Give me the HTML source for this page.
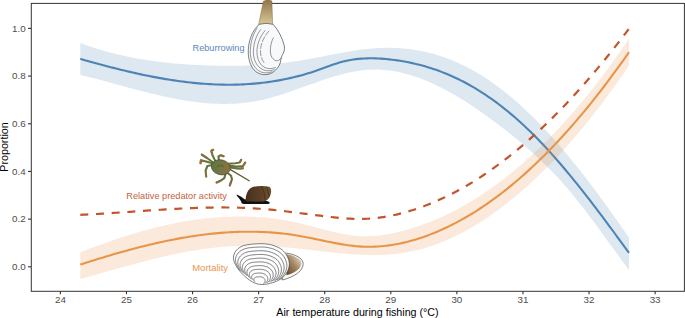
<!DOCTYPE html>
<html><head><meta charset="utf-8"><style>
html,body{margin:0;padding:0;background:#fff;width:685px;height:318px;overflow:hidden}
svg{display:block;font-family:"Liberation Sans",sans-serif}
</style></head><body>
<svg width="685" height="318" viewBox="0 0 685 318">
<rect x="0" y="0" width="685" height="318" fill="#fff"/>
<path d="M80.30,43.03 L83.06,44.05 L85.81,45.03 L88.57,45.99 L91.33,46.92 L94.09,47.82 L96.84,48.69 L99.60,49.53 L102.36,50.34 L105.12,51.13 L107.87,51.89 L110.63,52.63 L113.39,53.34 L116.14,54.03 L118.90,54.69 L121.66,55.32 L124.42,55.94 L127.17,56.52 L129.93,57.09 L132.69,57.63 L135.45,58.16 L138.20,58.66 L140.96,59.13 L143.72,59.59 L146.47,60.03 L149.23,60.45 L151.99,60.85 L154.75,61.23 L157.50,61.59 L160.26,61.93 L163.02,62.26 L165.78,62.56 L168.53,62.85 L171.29,63.13 L174.05,63.39 L176.81,63.63 L179.56,63.86 L182.32,64.07 L185.08,64.27 L187.83,64.46 L190.59,64.63 L193.35,64.79 L196.11,64.94 L198.86,65.07 L201.62,65.20 L204.38,65.31 L207.14,65.41 L209.89,65.50 L212.65,65.58 L215.41,65.65 L218.16,65.71 L220.92,65.75 L223.68,65.78 L226.44,65.80 L229.19,65.81 L231.95,65.80 L234.71,65.78 L237.47,65.75 L240.22,65.70 L242.98,65.64 L245.74,65.56 L248.49,65.47 L251.25,65.36 L254.01,65.24 L256.77,65.10 L259.52,64.94 L262.28,64.77 L265.04,64.58 L267.80,64.38 L270.55,64.16 L273.31,63.92 L276.07,63.66 L278.82,63.38 L281.58,63.08 L284.34,62.77 L287.10,62.44 L289.85,62.08 L292.61,61.71 L295.37,61.32 L298.13,60.91 L300.88,60.47 L303.64,60.02 L306.40,59.54 L309.15,59.05 L311.91,58.54 L314.67,58.02 L317.43,57.49 L320.18,56.95 L322.94,56.40 L325.70,55.85 L328.46,55.30 L331.21,54.76 L333.97,54.21 L336.73,53.68 L339.48,53.15 L342.24,52.64 L345.00,52.14 L347.76,51.65 L350.51,51.19 L353.27,50.75 L356.03,50.33 L358.79,49.94 L361.54,49.58 L364.30,49.25 L367.06,48.95 L369.82,48.68 L372.57,48.45 L375.33,48.25 L378.09,48.09 L380.84,47.97 L383.60,47.88 L386.36,47.83 L389.12,47.83 L391.87,47.86 L394.63,47.93 L397.39,48.05 L400.15,48.21 L402.90,48.42 L405.66,48.67 L408.42,48.97 L411.17,49.31 L413.93,49.71 L416.69,50.15 L419.45,50.64 L422.20,51.18 L424.96,51.77 L427.72,52.41 L430.48,53.11 L433.23,53.85 L435.99,54.64 L438.75,55.48 L441.50,56.38 L444.26,57.33 L447.02,58.33 L449.78,59.38 L452.53,60.49 L455.29,61.65 L458.05,62.87 L460.81,64.13 L463.56,65.46 L466.32,66.84 L469.08,68.27 L471.83,69.76 L474.59,71.31 L477.35,72.91 L480.11,74.57 L482.86,76.28 L485.62,78.05 L488.38,79.87 L491.14,81.75 L493.89,83.69 L496.65,85.68 L499.41,87.73 L502.16,89.83 L504.92,91.99 L507.68,94.20 L510.44,96.47 L513.19,98.79 L515.95,101.17 L518.71,103.61 L521.47,106.10 L524.22,108.64 L526.98,111.24 L529.74,113.89 L532.49,116.59 L535.25,119.34 L538.01,122.14 L540.77,124.99 L543.52,127.90 L546.28,130.85 L549.04,133.84 L551.80,136.89 L554.55,139.98 L557.31,143.11 L560.07,146.30 L562.83,149.52 L565.58,152.78 L568.34,156.09 L571.10,159.44 L573.85,162.83 L576.61,166.26 L579.37,169.73 L582.13,173.23 L584.88,176.77 L587.64,180.35 L590.40,183.97 L593.16,187.61 L595.91,191.29 L598.67,195.01 L601.43,198.76 L604.18,202.53 L606.94,206.34 L609.70,210.18 L612.46,214.04 L615.21,217.94 L617.97,221.86 L620.73,225.81 L623.49,229.78 L626.24,233.78 L629.00,237.80 L629.00,270.18 L626.24,266.46 L623.49,262.71 L620.73,258.94 L617.97,255.15 L615.21,251.35 L612.46,247.55 L609.70,243.74 L606.94,239.93 L604.18,236.12 L601.43,232.33 L598.67,228.56 L595.91,224.81 L593.16,221.08 L590.40,217.39 L587.64,213.73 L584.88,210.11 L582.13,206.53 L579.37,203.01 L576.61,199.54 L573.85,196.14 L571.10,192.79 L568.34,189.52 L565.58,186.32 L562.83,183.18 L560.07,180.11 L557.31,177.11 L554.55,174.17 L551.80,171.29 L549.04,168.47 L546.28,165.70 L543.52,162.99 L540.77,160.33 L538.01,157.73 L535.25,155.17 L532.49,152.65 L529.74,150.19 L526.98,147.76 L524.22,145.38 L521.47,143.03 L518.71,140.72 L515.95,138.45 L513.19,136.20 L510.44,133.99 L507.68,131.81 L504.92,129.65 L502.16,127.52 L499.41,125.41 L496.65,123.32 L493.89,121.26 L491.14,119.22 L488.38,117.20 L485.62,115.21 L482.86,113.25 L480.11,111.31 L477.35,109.40 L474.59,107.53 L471.83,105.68 L469.08,103.87 L466.32,102.09 L463.56,100.35 L460.81,98.64 L458.05,96.97 L455.29,95.33 L452.53,93.74 L449.78,92.18 L447.02,90.67 L444.26,89.20 L441.50,87.78 L438.75,86.39 L435.99,85.06 L433.23,83.77 L430.48,82.53 L427.72,81.34 L424.96,80.20 L422.20,79.11 L419.45,78.07 L416.69,77.09 L413.93,76.16 L411.17,75.28 L408.42,74.47 L405.66,73.71 L402.90,73.01 L400.15,72.37 L397.39,71.80 L394.63,71.28 L391.87,70.83 L389.12,70.45 L386.36,70.13 L383.60,69.88 L380.84,69.69 L378.09,69.58 L375.33,69.53 L372.57,69.56 L369.82,69.66 L367.06,69.83 L364.30,70.07 L361.54,70.38 L358.79,70.76 L356.03,71.19 L353.27,71.68 L350.51,72.23 L347.76,72.83 L345.00,73.48 L342.24,74.17 L339.48,74.90 L336.73,75.68 L333.97,76.49 L331.21,77.33 L328.46,78.20 L325.70,79.10 L322.94,80.02 L320.18,80.96 L317.43,81.92 L314.67,82.90 L311.91,83.88 L309.15,84.87 L306.40,85.87 L303.64,86.86 L300.88,87.86 L298.13,88.85 L295.37,89.83 L292.61,90.81 L289.85,91.76 L287.10,92.71 L284.34,93.63 L281.58,94.52 L278.82,95.39 L276.07,96.23 L273.31,97.04 L270.55,97.81 L267.80,98.54 L265.04,99.23 L262.28,99.88 L259.52,100.47 L256.77,101.02 L254.01,101.51 L251.25,101.96 L248.49,102.35 L245.74,102.70 L242.98,103.01 L240.22,103.27 L237.47,103.48 L234.71,103.65 L231.95,103.78 L229.19,103.87 L226.44,103.92 L223.68,103.93 L220.92,103.90 L218.16,103.84 L215.41,103.73 L212.65,103.60 L209.89,103.42 L207.14,103.22 L204.38,102.98 L201.62,102.71 L198.86,102.41 L196.11,102.09 L193.35,101.73 L190.59,101.35 L187.83,100.94 L185.08,100.50 L182.32,100.04 L179.56,99.56 L176.81,99.05 L174.05,98.52 L171.29,97.98 L168.53,97.41 L165.78,96.83 L163.02,96.22 L160.26,95.60 L157.50,94.97 L154.75,94.32 L151.99,93.66 L149.23,92.98 L146.47,92.29 L143.72,91.60 L140.96,90.89 L138.20,90.18 L135.45,89.45 L132.69,88.72 L129.93,87.99 L127.17,87.25 L124.42,86.50 L121.66,85.76 L118.90,85.01 L116.14,84.26 L113.39,83.51 L110.63,82.77 L107.87,82.02 L105.12,81.28 L102.36,80.55 L99.60,79.81 L96.84,79.09 L94.09,78.37 L91.33,77.66 L88.57,76.96 L85.81,76.27 L83.06,75.59 L80.30,74.92 Z" fill="#4682b4" fill-opacity="0.18"/>
<path d="M80.30,58.86 L83.06,59.65 L85.81,60.43 L88.57,61.21 L91.33,61.97 L94.09,62.74 L96.84,63.49 L99.60,64.24 L102.36,64.98 L105.12,65.71 L107.87,66.44 L110.63,67.15 L113.39,67.86 L116.14,68.56 L118.90,69.24 L121.66,69.92 L124.42,70.59 L127.17,71.24 L129.93,71.89 L132.69,72.52 L135.45,73.14 L138.20,73.75 L140.96,74.35 L143.72,74.93 L146.47,75.50 L149.23,76.06 L151.99,76.60 L154.75,77.13 L157.50,77.65 L160.26,78.15 L163.02,78.63 L165.78,79.10 L168.53,79.55 L171.29,79.99 L174.05,80.40 L176.81,80.81 L179.56,81.19 L182.32,81.56 L185.08,81.90 L187.83,82.23 L190.59,82.54 L193.35,82.84 L196.11,83.11 L198.86,83.36 L201.62,83.59 L204.38,83.80 L207.14,83.99 L209.89,84.16 L212.65,84.31 L215.41,84.43 L218.16,84.53 L220.92,84.61 L223.68,84.67 L226.44,84.70 L229.19,84.71 L231.95,84.69 L234.71,84.65 L237.47,84.59 L240.22,84.50 L242.98,84.38 L245.74,84.24 L248.49,84.07 L251.25,83.88 L254.01,83.66 L256.77,83.41 L259.52,83.13 L262.28,82.82 L265.04,82.49 L267.80,82.13 L270.55,81.74 L273.31,81.32 L276.07,80.86 L278.82,80.38 L281.58,79.87 L284.34,79.33 L287.10,78.75 L289.85,78.15 L292.61,77.51 L295.37,76.84 L298.13,76.14 L300.88,75.41 L303.64,74.64 L306.40,73.84 L309.15,73.00 L311.91,72.14 L314.67,71.23 L317.43,70.30 L320.18,69.33 L322.94,68.33 L325.70,67.31 L328.46,66.29 L331.21,65.29 L333.97,64.32 L336.73,63.40 L339.48,62.55 L342.24,61.79 L345.00,61.10 L347.76,60.50 L350.51,59.98 L353.27,59.54 L356.03,59.16 L358.79,58.86 L361.54,58.63 L364.30,58.46 L367.06,58.35 L369.82,58.30 L372.57,58.31 L375.33,58.37 L378.09,58.48 L380.84,58.63 L383.60,58.83 L386.36,59.07 L389.12,59.35 L391.87,59.67 L394.63,60.02 L397.39,60.40 L400.15,60.83 L402.90,61.28 L405.66,61.78 L408.42,62.31 L411.17,62.89 L413.93,63.50 L416.69,64.15 L419.45,64.84 L422.20,65.57 L424.96,66.34 L427.72,67.15 L430.48,68.01 L433.23,68.91 L435.99,69.85 L438.75,70.84 L441.50,71.87 L444.26,72.95 L447.02,74.07 L449.78,75.24 L452.53,76.45 L455.29,77.72 L458.05,79.03 L460.81,80.39 L463.56,81.80 L466.32,83.26 L469.08,84.77 L471.83,86.33 L474.59,87.94 L477.35,89.60 L480.11,91.31 L482.86,93.08 L485.62,94.90 L488.38,96.76 L491.14,98.68 L493.89,100.66 L496.65,102.68 L499.41,104.76 L502.16,106.88 L504.92,109.06 L507.68,111.30 L510.44,113.58 L513.19,115.92 L515.95,118.31 L518.71,120.75 L521.47,123.24 L524.22,125.79 L526.98,128.39 L529.74,131.04 L532.49,133.75 L535.25,136.51 L538.01,139.32 L540.77,142.18 L543.52,145.09 L546.28,148.05 L549.04,151.06 L551.80,154.11 L554.55,157.21 L557.31,160.36 L560.07,163.54 L562.83,166.76 L565.58,170.03 L568.34,173.33 L571.10,176.67 L573.85,180.04 L576.61,183.45 L579.37,186.89 L582.13,190.36 L584.88,193.86 L587.64,197.39 L590.40,200.95 L593.16,204.54 L595.91,208.15 L598.67,211.78 L601.43,215.44 L604.18,219.11 L606.94,222.81 L609.70,226.52 L612.46,230.25 L615.21,234.00 L617.97,237.76 L620.73,241.54 L623.49,245.32 L626.24,249.12 L629.00,252.92" fill="none" stroke="#4d84b3" stroke-width="2.1"/>
<path d="M80.30,252.29 L83.06,251.20 L85.81,250.13 L88.57,249.07 L91.33,248.03 L94.09,246.99 L96.84,245.97 L99.60,244.96 L102.36,243.96 L105.12,242.97 L107.87,242.00 L110.63,241.05 L113.39,240.10 L116.14,239.17 L118.90,238.26 L121.66,237.36 L124.42,236.47 L127.17,235.60 L129.93,234.75 L132.69,233.91 L135.45,233.08 L138.20,232.28 L140.96,231.49 L143.72,230.72 L146.47,229.96 L149.23,229.22 L151.99,228.50 L154.75,227.80 L157.50,227.11 L160.26,226.45 L163.02,225.80 L165.78,225.17 L168.53,224.57 L171.29,223.98 L174.05,223.41 L176.81,222.86 L179.56,222.33 L182.32,221.82 L185.08,221.34 L187.83,220.87 L190.59,220.43 L193.35,220.01 L196.11,219.61 L198.86,219.23 L201.62,218.88 L204.38,218.54 L207.14,218.24 L209.89,217.95 L212.65,217.69 L215.41,217.45 L218.16,217.24 L220.92,217.05 L223.68,216.89 L226.44,216.75 L229.19,216.64 L231.95,216.55 L234.71,216.49 L237.47,216.45 L240.22,216.44 L242.98,216.46 L245.74,216.51 L248.49,216.58 L251.25,216.68 L254.01,216.81 L256.77,216.96 L259.52,217.15 L262.28,217.36 L265.04,217.60 L267.80,217.87 L270.55,218.17 L273.31,218.50 L276.07,218.86 L278.82,219.25 L281.58,219.67 L284.34,220.12 L287.10,220.61 L289.85,221.12 L292.61,221.67 L295.37,222.25 L298.13,222.86 L300.88,223.50 L303.64,224.17 L306.40,224.86 L309.15,225.58 L311.91,226.31 L314.67,227.04 L317.43,227.79 L320.18,228.53 L322.94,229.27 L325.70,229.99 L328.46,230.70 L331.21,231.39 L333.97,232.06 L336.73,232.70 L339.48,233.30 L342.24,233.86 L345.00,234.37 L347.76,234.84 L350.51,235.25 L353.27,235.61 L356.03,235.89 L358.79,236.11 L361.54,236.26 L364.30,236.33 L367.06,236.33 L369.82,236.25 L372.57,236.11 L375.33,235.91 L378.09,235.64 L380.84,235.31 L383.60,234.93 L386.36,234.49 L389.12,233.99 L391.87,233.45 L394.63,232.86 L397.39,232.22 L400.15,231.54 L402.90,230.82 L405.66,230.07 L408.42,229.27 L411.17,228.45 L413.93,227.58 L416.69,226.68 L419.45,225.74 L422.20,224.77 L424.96,223.76 L427.72,222.72 L430.48,221.63 L433.23,220.51 L435.99,219.36 L438.75,218.16 L441.50,216.93 L444.26,215.66 L447.02,214.36 L449.78,213.01 L452.53,211.63 L455.29,210.21 L458.05,208.75 L460.81,207.26 L463.56,205.72 L466.32,204.15 L469.08,202.54 L471.83,200.89 L474.59,199.20 L477.35,197.47 L480.11,195.71 L482.86,193.90 L485.62,192.06 L488.38,190.17 L491.14,188.25 L493.89,186.28 L496.65,184.28 L499.41,182.24 L502.16,180.15 L504.92,178.03 L507.68,175.86 L510.44,173.66 L513.19,171.41 L515.95,169.12 L518.71,166.80 L521.47,164.43 L524.22,162.02 L526.98,159.56 L529.74,157.07 L532.49,154.54 L535.25,151.96 L538.01,149.34 L540.77,146.68 L543.52,143.98 L546.28,141.24 L549.04,138.45 L551.80,135.62 L554.55,132.75 L557.31,129.83 L560.07,126.87 L562.83,123.87 L565.58,120.83 L568.34,117.74 L571.10,114.61 L573.85,111.44 L576.61,108.22 L579.37,104.96 L582.13,101.65 L584.88,98.30 L587.64,94.91 L590.40,91.47 L593.16,87.98 L595.91,84.46 L598.67,80.88 L601.43,77.27 L604.18,73.60 L606.94,69.90 L609.70,66.14 L612.46,62.34 L615.21,58.50 L617.97,54.61 L620.73,50.68 L623.49,46.69 L626.24,42.67 L629.00,38.59 L629.00,65.63 L626.24,69.69 L623.49,73.70 L620.73,77.66 L617.97,81.58 L615.21,85.46 L612.46,89.29 L609.70,93.08 L606.94,96.82 L604.18,100.52 L601.43,104.17 L598.67,107.78 L595.91,111.35 L593.16,114.87 L590.40,118.35 L587.64,121.78 L584.88,125.17 L582.13,128.52 L579.37,131.82 L576.61,135.08 L573.85,138.30 L571.10,141.47 L568.34,144.60 L565.58,147.69 L562.83,150.73 L560.07,153.73 L557.31,156.69 L554.55,159.60 L551.80,162.47 L549.04,165.30 L546.28,168.09 L543.52,170.84 L540.77,173.54 L538.01,176.20 L535.25,178.82 L532.49,181.39 L529.74,183.93 L526.98,186.42 L524.22,188.87 L521.47,191.28 L518.71,193.65 L515.95,195.97 L513.19,198.26 L510.44,200.50 L507.68,202.70 L504.92,204.85 L502.16,206.97 L499.41,209.04 L496.65,211.07 L493.89,213.05 L491.14,215.00 L488.38,216.90 L485.62,218.75 L482.86,220.56 L480.11,222.33 L477.35,224.05 L474.59,225.73 L471.83,227.36 L469.08,228.95 L466.32,230.49 L463.56,231.99 L460.81,233.44 L458.05,234.85 L455.29,236.21 L452.53,237.53 L449.78,238.79 L447.02,240.02 L444.26,241.19 L441.50,242.32 L438.75,243.40 L435.99,244.43 L433.23,245.42 L430.48,246.35 L427.72,247.24 L424.96,248.09 L422.20,248.88 L419.45,249.62 L416.69,250.32 L413.93,250.97 L411.17,251.56 L408.42,252.11 L405.66,252.61 L402.90,253.06 L400.15,253.46 L397.39,253.81 L394.63,254.12 L391.87,254.39 L389.12,254.61 L386.36,254.79 L383.60,254.93 L380.84,255.04 L378.09,255.11 L375.33,255.14 L372.57,255.15 L369.82,255.12 L367.06,255.06 L364.30,254.97 L361.54,254.86 L358.79,254.72 L356.03,254.56 L353.27,254.38 L350.51,254.18 L347.76,253.96 L345.00,253.72 L342.24,253.47 L339.48,253.20 L336.73,252.92 L333.97,252.63 L331.21,252.33 L328.46,252.03 L325.70,251.72 L322.94,251.40 L320.18,251.08 L317.43,250.76 L314.67,250.44 L311.91,250.13 L309.15,249.81 L306.40,249.51 L303.64,249.20 L300.88,248.91 L298.13,248.63 L295.37,248.36 L292.61,248.10 L289.85,247.85 L287.10,247.61 L284.34,247.39 L281.58,247.18 L278.82,246.99 L276.07,246.81 L273.31,246.65 L270.55,246.50 L267.80,246.37 L265.04,246.25 L262.28,246.15 L259.52,246.08 L256.77,246.01 L254.01,245.97 L251.25,245.95 L248.49,245.94 L245.74,245.96 L242.98,246.00 L240.22,246.06 L237.47,246.14 L234.71,246.24 L231.95,246.37 L229.19,246.51 L226.44,246.69 L223.68,246.88 L220.92,247.11 L218.16,247.35 L215.41,247.62 L212.65,247.92 L209.89,248.24 L207.14,248.59 L204.38,248.95 L201.62,249.34 L198.86,249.75 L196.11,250.18 L193.35,250.63 L190.59,251.10 L187.83,251.59 L185.08,252.10 L182.32,252.63 L179.56,253.17 L176.81,253.73 L174.05,254.30 L171.29,254.90 L168.53,255.50 L165.78,256.12 L163.02,256.75 L160.26,257.40 L157.50,258.06 L154.75,258.73 L151.99,259.41 L149.23,260.10 L146.47,260.80 L143.72,261.51 L140.96,262.23 L138.20,262.96 L135.45,263.69 L132.69,264.43 L129.93,265.18 L127.17,265.93 L124.42,266.69 L121.66,267.45 L118.90,268.22 L116.14,268.99 L113.39,269.76 L110.63,270.53 L107.87,271.31 L105.12,272.08 L102.36,272.86 L99.60,273.63 L96.84,274.41 L94.09,275.18 L91.33,275.95 L88.57,276.71 L85.81,277.48 L83.06,278.23 L80.30,278.99 Z" fill="#e88a3a" fill-opacity="0.18"/>
<path d="M80.30,264.53 L83.06,263.65 L85.81,262.77 L88.57,261.90 L91.33,261.03 L94.09,260.17 L96.84,259.32 L99.60,258.47 L102.36,257.63 L105.12,256.80 L107.87,255.98 L110.63,255.16 L113.39,254.36 L116.14,253.56 L118.90,252.77 L121.66,252.00 L124.42,251.23 L127.17,250.47 L129.93,249.72 L132.69,248.99 L135.45,248.26 L138.20,247.55 L140.96,246.84 L143.72,246.15 L146.47,245.47 L149.23,244.81 L151.99,244.15 L154.75,243.51 L157.50,242.89 L160.26,242.27 L163.02,241.67 L165.78,241.09 L168.53,240.52 L171.29,239.96 L174.05,239.42 L176.81,238.90 L179.56,238.39 L182.32,237.90 L185.08,237.42 L187.83,236.96 L190.59,236.52 L193.35,236.10 L196.11,235.69 L198.86,235.30 L201.62,234.93 L204.38,234.57 L207.14,234.24 L209.89,233.92 L212.65,233.63 L215.41,233.35 L218.16,233.10 L220.92,232.86 L223.68,232.64 L226.44,232.45 L229.19,232.28 L231.95,232.12 L234.71,231.99 L237.47,231.88 L240.22,231.80 L242.98,231.74 L245.74,231.69 L248.49,231.68 L251.25,231.68 L254.01,231.71 L256.77,231.77 L259.52,231.85 L262.28,231.95 L265.04,232.08 L267.80,232.23 L270.55,232.41 L273.31,232.62 L276.07,232.85 L278.82,233.11 L281.58,233.39 L284.34,233.70 L287.10,234.04 L289.85,234.41 L292.61,234.80 L295.37,235.23 L298.13,235.68 L300.88,236.16 L303.64,236.66 L306.40,237.19 L309.15,237.74 L311.91,238.30 L314.67,238.88 L317.43,239.46 L320.18,240.04 L322.94,240.62 L325.70,241.20 L328.46,241.77 L331.21,242.33 L333.97,242.87 L336.73,243.39 L339.48,243.89 L342.24,244.37 L345.00,244.81 L347.76,245.21 L350.51,245.58 L353.27,245.91 L356.03,246.18 L358.79,246.41 L361.54,246.59 L364.30,246.71 L367.06,246.77 L369.82,246.78 L372.57,246.74 L375.33,246.64 L378.09,246.49 L380.84,246.29 L383.60,246.04 L386.36,245.73 L389.12,245.38 L391.87,244.97 L394.63,244.52 L397.39,244.02 L400.15,243.47 L402.90,242.87 L405.66,242.22 L408.42,241.53 L411.17,240.79 L413.93,240.01 L416.69,239.18 L419.45,238.31 L422.20,237.39 L424.96,236.43 L427.72,235.43 L430.48,234.38 L433.23,233.30 L435.99,232.17 L438.75,231.00 L441.50,229.79 L444.26,228.54 L447.02,227.24 L449.78,225.91 L452.53,224.53 L455.29,223.11 L458.05,221.65 L460.81,220.15 L463.56,218.61 L466.32,217.03 L469.08,215.40 L471.83,213.74 L474.59,212.03 L477.35,210.29 L480.11,208.50 L482.86,206.67 L485.62,204.80 L488.38,202.89 L491.14,200.94 L493.89,198.94 L496.65,196.91 L499.41,194.84 L502.16,192.72 L504.92,190.57 L507.68,188.37 L510.44,186.13 L513.19,183.86 L515.95,181.54 L518.71,179.18 L521.47,176.78 L524.22,174.34 L526.98,171.87 L529.74,169.35 L532.49,166.79 L535.25,164.19 L538.01,161.55 L540.77,158.87 L543.52,156.15 L546.28,153.39 L549.04,150.59 L551.80,147.75 L554.55,144.87 L557.31,141.95 L560.07,138.99 L562.83,135.99 L565.58,132.95 L568.34,129.87 L571.10,126.75 L573.85,123.59 L576.61,120.40 L579.37,117.16 L582.13,113.88 L584.88,110.57 L587.64,107.21 L590.40,103.82 L593.16,100.38 L595.91,96.91 L598.67,93.39 L601.43,89.84 L604.18,86.25 L606.94,82.62 L609.70,78.95 L612.46,75.24 L615.21,71.49 L617.97,67.71 L620.73,63.88 L623.49,60.02 L626.24,56.11 L629.00,52.17" fill="none" stroke="#e8954a" stroke-width="2.1"/>
<path d="M80.30,214.84 L83.06,214.71 L85.81,214.58 L88.57,214.44 L91.33,214.29 L94.09,214.14 L96.84,213.98 L99.60,213.81 L102.36,213.65 L105.12,213.47 L107.87,213.30 L110.63,213.12 L113.39,212.94 L116.14,212.75 L118.90,212.57 L121.66,212.38 L124.42,212.19 L127.17,212.00 L129.93,211.81 L132.69,211.61 L135.45,211.42 L138.20,211.23 L140.96,211.04 L143.72,210.85 L146.47,210.66 L149.23,210.47 L151.99,210.29 L154.75,210.11 L157.50,209.93 L160.26,209.75 L163.02,209.58 L165.78,209.41 L168.53,209.25 L171.29,209.09 L174.05,208.93 L176.81,208.79 L179.56,208.64 L182.32,208.51 L185.08,208.38 L187.83,208.26 L190.59,208.14 L193.35,208.03 L196.11,207.93 L198.86,207.84 L201.62,207.76 L204.38,207.69 L207.14,207.62 L209.89,207.57 L212.65,207.53 L215.41,207.50 L218.16,207.48 L220.92,207.47 L223.68,207.47 L226.44,207.48 L229.19,207.51 L231.95,207.55 L234.71,207.60 L237.47,207.67 L240.22,207.75 L242.98,207.84 L245.74,207.95 L248.49,208.08 L251.25,208.22 L254.01,208.37 L256.77,208.55 L259.52,208.73 L262.28,208.94 L265.04,209.16 L267.80,209.40 L270.55,209.66 L273.31,209.93 L276.07,210.22 L278.82,210.52 L281.58,210.83 L284.34,211.15 L287.10,211.48 L289.85,211.82 L292.61,212.17 L295.37,212.52 L298.13,212.87 L300.88,213.23 L303.64,213.59 L306.40,213.95 L309.15,214.31 L311.91,214.66 L314.67,215.02 L317.43,215.37 L320.18,215.71 L322.94,216.05 L325.70,216.38 L328.46,216.70 L331.21,217.02 L333.97,217.31 L336.73,217.60 L339.48,217.87 L342.24,218.12 L345.00,218.35 L347.76,218.54 L350.51,218.71 L353.27,218.83 L356.03,218.92 L358.79,218.95 L361.54,218.94 L364.30,218.88 L367.06,218.76 L369.82,218.60 L372.57,218.38 L375.33,218.12 L378.09,217.81 L380.84,217.45 L383.60,217.04 L386.36,216.59 L389.12,216.09 L391.87,215.55 L394.63,214.96 L397.39,214.33 L400.15,213.66 L402.90,212.95 L405.66,212.19 L408.42,211.40 L411.17,210.56 L413.93,209.69 L416.69,208.78 L419.45,207.83 L422.20,206.84 L424.96,205.81 L427.72,204.74 L430.48,203.64 L433.23,202.50 L435.99,201.32 L438.75,200.10 L441.50,198.85 L444.26,197.56 L447.02,196.23 L449.78,194.86 L452.53,193.45 L455.29,192.01 L458.05,190.53 L460.81,189.01 L463.56,187.46 L466.32,185.86 L469.08,184.24 L471.83,182.57 L474.59,180.87 L477.35,179.13 L480.11,177.35 L482.86,175.54 L485.62,173.69 L488.38,171.80 L491.14,169.88 L493.89,167.92 L496.65,165.92 L499.41,163.89 L502.16,161.82 L504.92,159.71 L507.68,157.57 L510.44,155.40 L513.19,153.18 L515.95,150.93 L518.71,148.65 L521.47,146.33 L524.22,143.97 L526.98,141.58 L529.74,139.15 L532.49,136.69 L535.25,134.19 L538.01,131.66 L540.77,129.09 L543.52,126.48 L546.28,123.84 L549.04,121.17 L551.80,118.46 L554.55,115.72 L557.31,112.94 L560.07,110.12 L562.83,107.27 L565.58,104.39 L568.34,101.47 L571.10,98.52 L573.85,95.53 L576.61,92.51 L579.37,89.46 L582.13,86.37 L584.88,83.24 L587.64,80.08 L590.40,76.89 L593.16,73.67 L595.91,70.41 L598.67,67.11 L601.43,63.79 L604.18,60.42 L606.94,57.03 L609.70,53.60 L612.46,50.14 L615.21,46.64 L617.97,43.12 L620.73,39.55 L623.49,35.96 L626.24,32.33 L629.00,28.67" fill="none" stroke="#c2552b" stroke-width="2.2" stroke-dasharray="8 7.7"/>
<g stroke="#333" stroke-width="1.1"><line x1="60.40" y1="291.2" x2="60.40" y2="294.2"/><line x1="126.48" y1="291.2" x2="126.48" y2="294.2"/><line x1="192.56" y1="291.2" x2="192.56" y2="294.2"/><line x1="258.64" y1="291.2" x2="258.64" y2="294.2"/><line x1="324.72" y1="291.2" x2="324.72" y2="294.2"/><line x1="390.80" y1="291.2" x2="390.80" y2="294.2"/><line x1="456.88" y1="291.2" x2="456.88" y2="294.2"/><line x1="522.96" y1="291.2" x2="522.96" y2="294.2"/><line x1="589.04" y1="291.2" x2="589.04" y2="294.2"/><line x1="655.12" y1="291.2" x2="655.12" y2="294.2"/><line x1="28" y1="266.80" x2="31" y2="266.80"/><line x1="28" y1="219.12" x2="31" y2="219.12"/><line x1="28" y1="171.44" x2="31" y2="171.44"/><line x1="28" y1="123.76" x2="31" y2="123.76"/><line x1="28" y1="76.08" x2="31" y2="76.08"/><line x1="28" y1="28.40" x2="31" y2="28.40"/></g>
<rect x="31.3" y="3.4" width="653.1" height="287.9" fill="none" stroke="#333" stroke-width="1.0"/>
<g fill="#4d4d4d" font-size="9.8"><text x="60.40" y="303.3" text-anchor="middle">24</text><text x="126.48" y="303.3" text-anchor="middle">25</text><text x="192.56" y="303.3" text-anchor="middle">26</text><text x="258.64" y="303.3" text-anchor="middle">27</text><text x="324.72" y="303.3" text-anchor="middle">28</text><text x="390.80" y="303.3" text-anchor="middle">29</text><text x="456.88" y="303.3" text-anchor="middle">30</text><text x="522.96" y="303.3" text-anchor="middle">31</text><text x="589.04" y="303.3" text-anchor="middle">32</text><text x="655.12" y="303.3" text-anchor="middle">33</text><text x="25.6" y="270.10" text-anchor="end">0.0</text><text x="25.6" y="222.42" text-anchor="end">0.2</text><text x="25.6" y="174.74" text-anchor="end">0.4</text><text x="25.6" y="127.06" text-anchor="end">0.6</text><text x="25.6" y="79.38" text-anchor="end">0.8</text><text x="25.6" y="31.70" text-anchor="end">1.0</text></g>
<text x="357.5" y="316" font-size="10.7" text-anchor="middle" fill="#000">Air temperature during fishing (°C)</text>
<text transform="translate(8.3,147) rotate(-90)" font-size="10.7" text-anchor="middle" fill="#000">Proportion</text>
<text x="192.5" y="50.6" font-size="9.2" fill="#5a8ab6">Reburrowing</text>
<text x="126.3" y="198.7" font-size="9.2" fill="#c4623c">Relative predator activity</text>
<text x="192.2" y="270.6" font-size="9.5" fill="#e8974f">Mortality</text>
<defs>
<linearGradient id="siph" x1="0" y1="0" x2="0" y2="1">
<stop offset="0" stop-color="#93764a"/><stop offset="1" stop-color="#dccb9a"/>
</linearGradient>
<linearGradient id="inner" x1="0" y1="1" x2="1" y2="0">
<stop offset="0" stop-color="#5e3f1c"/><stop offset="0.55" stop-color="#a88a66"/><stop offset="1" stop-color="#f2ece4"/>
</linearGradient>
<linearGradient id="crabb" x1="0" y1="0" x2="1" y2="0">
<stop offset="0" stop-color="#64733f"/><stop offset="0.45" stop-color="#6f7845"/><stop offset="1" stop-color="#94703f"/>
</linearGradient>
<linearGradient id="snailg" x1="0" y1="0" x2="1" y2="0">
<stop offset="0" stop-color="#45301c"/><stop offset="0.55" stop-color="#5a3f26"/><stop offset="1" stop-color="#6e5133"/>
</linearGradient>
</defs>
<!-- burrowing clam -->
<g>
<path d="M263.4,1.2 Q267.6,-1 271.9,0.9 L272.7,25.5 L258.4,25.5 Z" fill="url(#siph)" stroke="#6d5a3a" stroke-width="0.4"/>
<path d="M259.2,24.3 Q266,22.3 273.1,24.3 C278,29.5 282.5,38 284.3,45.8 C285,49.5 284,52.5 282,55.5 C281,58 280.8,60.5 280.2,63 C279,66.5 276.5,70 272.5,72.6 C269.5,74.3 266.5,74.8 263.5,74.6 C258.5,74 254.5,71.5 251.8,66.8 C249,62 248,56 248.3,49.5 C248.7,41.5 251.5,33.5 255.5,28.3 Z" fill="#f7f9fb" stroke="#2a2a2a" stroke-width="0.6"/>
<g fill="none" stroke="#333" stroke-width="0.5">
<path d="M257.4,27.6 C253.3,33.5 250.6,41.5 250.3,50 C250,58.5 252.5,66 258,70.3 C262,73.3 267.5,73.6 272.5,71.5"/>
<path d="M260.8,29.3 C256.5,35 253.7,42.5 253.4,50.5 C253.1,58 255.5,64.5 260.5,68.3 C264.5,71.3 270,71.4 274.5,69.3"/>
<path d="M265.3,30.3 C260.8,35.5 257.5,42.5 257,50 C256.6,56.5 258.5,62.5 262.5,66 C266,69 271,69.3 275.8,67.3"/>
<path d="M269.2,30.8 C264.8,35.5 261.6,41.5 260.7,48 C260,54 261.2,59.5 264.5,63.2" stroke-dasharray="6 1.2"/>
<path d="M273.6,37.5 C271.2,41.5 270.1,47 270.4,52.5 C270.8,56.5 272.6,59.3 275.6,60.6 C277.8,61.3 279.6,60 281,58"/>
</g>
</g>
<!-- dead clam: open valve -->
<g>
<path d="M284.5,253.2 C290,253.2 297,255 301.5,259.5 C304,262.5 303.5,266.5 300.5,270.5 C297,274.5 291.5,277 286.5,278.8 L282,280 Z" fill="#fbfaf8" stroke="#2a2a2a" stroke-width="0.6"/>
<path d="M285,254.3 C291,254.6 297,256.8 300.3,260.3 C302,262.5 301.6,265.5 299.4,268.2 C296,271.8 291,274 286.5,275.2 Z" fill="url(#inner)"/>
<clipPath id="dclip"><path d="M234.8,252.6 L235.7,251.1 L236.9,249.8 L238.1,248.6 L239.5,247.6 L241.0,246.7 L242.5,246.0 L244.1,245.5 L245.8,245.1 L247.5,244.7 L249.2,244.5 L250.9,244.3 L252.6,244.1 L254.4,244.0 L256.1,243.9 L257.8,243.8 L259.5,243.7 L261.2,243.7 L262.9,243.7 L264.6,243.8 L266.3,244.0 L268.0,244.2 L269.7,244.5 L271.3,244.9 L273.0,245.3 L274.6,245.9 L276.2,246.5 L277.8,247.2 L279.3,248.0 L280.8,248.9 L282.2,249.9 L283.5,251.1 L284.6,252.3 L285.7,253.6 L286.6,255.1 L287.4,256.6 L288.1,258.2 L288.7,259.8 L289.1,261.5 L289.3,263.2 L289.3,264.9 L289.1,266.6 L288.7,268.2 L288.1,269.9 L287.4,271.4 L286.5,272.9 L285.6,274.3 L284.5,275.7 L283.3,276.9 L282.0,278.0 L280.6,279.0 L279.2,279.9 L277.6,280.7 L276.1,281.5 L274.5,282.1 L272.9,282.6 L271.2,283.1 L269.6,283.5 L267.9,283.9 L266.2,284.2 L264.5,284.4 L262.8,284.5 L261.1,284.5 L259.4,284.3 L257.7,284.0 L256.1,283.5 L254.5,282.9 L252.9,282.2 L251.4,281.3 L250.0,280.4 L248.6,279.4 L247.2,278.3 L245.9,277.2 L244.6,276.1 L243.4,275.0 L242.2,273.8 L241.0,272.5 L239.9,271.2 L238.8,269.9 L237.8,268.5 L236.9,267.1 L236.0,265.6 L235.2,264.1 L234.5,262.5 L233.9,260.9 L233.5,259.2 L233.4,257.5 L233.6,255.8 L234.1,254.2 L234.8,252.6 Z"/></clipPath>
<path d="M234.8,252.6 L235.7,251.1 L236.9,249.8 L238.1,248.6 L239.5,247.6 L241.0,246.7 L242.5,246.0 L244.1,245.5 L245.8,245.1 L247.5,244.7 L249.2,244.5 L250.9,244.3 L252.6,244.1 L254.4,244.0 L256.1,243.9 L257.8,243.8 L259.5,243.7 L261.2,243.7 L262.9,243.7 L264.6,243.8 L266.3,244.0 L268.0,244.2 L269.7,244.5 L271.3,244.9 L273.0,245.3 L274.6,245.9 L276.2,246.5 L277.8,247.2 L279.3,248.0 L280.8,248.9 L282.2,249.9 L283.5,251.1 L284.6,252.3 L285.7,253.6 L286.6,255.1 L287.4,256.6 L288.1,258.2 L288.7,259.8 L289.1,261.5 L289.3,263.2 L289.3,264.9 L289.1,266.6 L288.7,268.2 L288.1,269.9 L287.4,271.4 L286.5,272.9 L285.6,274.3 L284.5,275.7 L283.3,276.9 L282.0,278.0 L280.6,279.0 L279.2,279.9 L277.6,280.7 L276.1,281.5 L274.5,282.1 L272.9,282.6 L271.2,283.1 L269.6,283.5 L267.9,283.9 L266.2,284.2 L264.5,284.4 L262.8,284.5 L261.1,284.5 L259.4,284.3 L257.7,284.0 L256.1,283.5 L254.5,282.9 L252.9,282.2 L251.4,281.3 L250.0,280.4 L248.6,279.4 L247.2,278.3 L245.9,277.2 L244.6,276.1 L243.4,275.0 L242.2,273.8 L241.0,272.5 L239.9,271.2 L238.8,269.9 L237.8,268.5 L236.9,267.1 L236.0,265.6 L235.2,264.1 L234.5,262.5 L233.9,260.9 L233.5,259.2 L233.4,257.5 L233.6,255.8 L234.1,254.2 L234.8,252.6 Z" fill="#fdfdfd" stroke="#2a2a2a" stroke-width="0.6"/>
<g fill="none" stroke="#1e1e1e" stroke-width="0.55" clip-path="url(#dclip)">
<path d="M239.7,270.2 L239.3,269.6 L238.9,269.0 L238.5,268.4 L238.2,267.8 L237.8,267.2 L237.5,266.6 L237.2,265.9 L236.9,265.3 L236.6,264.7 L236.3,264.0 L236.1,263.3 L235.9,262.7 L235.7,262.0 L235.6,261.3 L235.5,260.6 L235.4,259.9 L235.5,259.2 L235.6,258.5 L235.7,257.8 L235.9,257.1 L236.1,256.5 L236.4,255.8 L236.7,255.2 L236.7,255.2 L237.5,254.0 L238.4,252.8 L239.4,251.8 L240.6,250.9 L241.8,250.2 L243.0,249.5 L244.3,249.0 L245.7,248.5 L247.1,248.2 L248.5,247.9 L249.9,247.7 L251.4,247.6 L252.8,247.4 L254.2,247.3 L255.7,247.2 L257.1,247.1 L258.6,247.1 L260.0,247.0 L261.4,247.0 L262.8,247.0 L264.2,247.1 L265.6,247.2 L267.0,247.4 L268.4,247.7 L269.8,248.0 L271.2,248.3 L272.6,248.7 L273.9,249.2 L275.2,249.8 L276.5,250.4 L277.8,251.1 L279.0,251.8 L280.2,252.7 L281.3,253.6 L282.3,254.6 L283.2,255.7 L284.0,256.8 L284.8,258.0 L285.4,259.3 L285.9,260.7 L286.4,262.1 L286.7,263.5 L286.9,264.9 L286.9,266.3 L286.7,267.7 L286.4,269.1 L286.0,270.5 L285.4,271.8 L284.8,273.1 L284.1,274.3 L283.3,275.5 L282.3,276.6 L281.3,277.6 L280.2,278.5 L279.1,279.4"/>
<path d="M241.6,271.6 L241.2,271.1 L240.9,270.6 L240.5,270.0 L240.2,269.5 L239.9,268.9 L239.6,268.4 L239.3,267.8 L239.1,267.2 L238.8,266.6 L238.6,266.1 L238.3,265.4 L238.1,264.8 L238.0,264.2 L237.9,263.6 L237.8,263.0 L237.8,262.4 L237.8,261.7 L237.9,261.1 L238.0,260.5 L238.1,259.9 L238.4,259.3 L238.6,258.7 L238.9,258.1 L238.9,258.1 L239.6,257.0 L240.4,256.0 L241.4,255.1 L242.4,254.3 L243.5,253.6 L244.6,253.0 L245.8,252.5 L247.0,252.1 L248.2,251.8 L249.5,251.6 L250.8,251.4 L252.1,251.2 L253.4,251.1 L254.7,251.0 L256.0,250.9 L257.3,250.8 L258.6,250.8 L259.9,250.7 L261.2,250.7 L262.4,250.8 L263.7,250.8 L265.0,250.9 L266.2,251.1 L267.5,251.3 L268.8,251.6 L270.0,251.9 L271.2,252.3 L272.5,252.7 L273.7,253.2 L274.8,253.8 L276.0,254.4 L277.1,255.1 L278.1,255.8 L279.1,256.6 L280.0,257.5 L280.8,258.5 L281.6,259.6 L282.2,260.7 L282.8,261.8 L283.3,263.1 L283.7,264.3 L284.0,265.6 L284.1,266.8 L284.1,268.1 L284.0,269.4 L283.7,270.7 L283.3,271.9 L282.9,273.1 L282.3,274.2 L281.6,275.4 L280.9,276.4 L280.1,277.4 L279.1,278.3 L278.2,279.1 L277.1,279.9"/>
<path d="M243.5,273.1 L243.2,272.6 L242.8,272.1 L242.5,271.7 L242.3,271.2 L242.0,270.7 L241.7,270.2 L241.5,269.7 L241.2,269.2 L241.0,268.6 L240.8,268.1 L240.6,267.6 L240.4,267.0 L240.3,266.5 L240.2,265.9 L240.1,265.4 L240.1,264.8 L240.1,264.3 L240.1,263.7 L240.3,263.1 L240.4,262.6 L240.6,262.1 L240.8,261.5 L241.1,261.0 L241.1,261.0 L241.7,260.0 L242.4,259.1 L243.3,258.3 L244.2,257.6 L245.1,257.0 L246.2,256.5 L247.2,256.0 L248.3,255.7 L249.4,255.4 L250.5,255.2 L251.7,255.0 L252.9,254.9 L254.0,254.8 L255.2,254.7 L256.3,254.6 L257.5,254.5 L258.6,254.5 L259.8,254.5 L260.9,254.4 L262.1,254.5 L263.2,254.5 L264.3,254.6 L265.5,254.8 L266.6,255.0 L267.7,255.2 L268.8,255.5 L269.9,255.8 L271.0,256.2 L272.1,256.7 L273.1,257.2 L274.1,257.7 L275.1,258.3 L276.0,259.0 L276.9,259.7 L277.7,260.5 L278.5,261.4 L279.1,262.3 L279.7,263.3 L280.2,264.4 L280.7,265.4 L281.0,266.5 L281.3,267.7 L281.4,268.8 L281.4,269.9 L281.3,271.1 L281.1,272.2 L280.7,273.3 L280.3,274.4 L279.8,275.4 L279.2,276.4 L278.5,277.3 L277.8,278.2 L277.0,279.0 L276.1,279.8 L275.2,280.5"/>
<path d="M245.4,274.5 L245.1,274.1 L244.8,273.7 L244.6,273.3 L244.3,272.9 L244.1,272.4 L243.8,272.0 L243.6,271.5 L243.4,271.1 L243.2,270.6 L243.0,270.2 L242.8,269.7 L242.7,269.2 L242.5,268.7 L242.4,268.2 L242.4,267.8 L242.4,267.3 L242.4,266.8 L242.4,266.3 L242.5,265.8 L242.7,265.3 L242.8,264.8 L243.0,264.4 L243.3,263.9 L243.3,263.9 L243.8,263.1 L244.5,262.3 L245.2,261.6 L246.0,260.9 L246.8,260.4 L247.7,259.9 L248.6,259.5 L249.6,259.2 L250.6,259.0 L251.6,258.8 L252.6,258.7 L253.6,258.6 L254.6,258.5 L255.6,258.4 L256.7,258.3 L257.7,258.2 L258.7,258.2 L259.7,258.2 L260.7,258.2 L261.7,258.2 L262.7,258.2 L263.7,258.3 L264.7,258.4 L265.7,258.6 L266.6,258.8 L267.6,259.1 L268.6,259.4 L269.5,259.7 L270.5,260.1 L271.4,260.5 L272.3,261.0 L273.2,261.6 L274.0,262.1 L274.7,262.8 L275.5,263.5 L276.1,264.3 L276.7,265.1 L277.2,266.0 L277.6,266.9 L278.0,267.8 L278.3,268.8 L278.6,269.8 L278.7,270.8 L278.7,271.8 L278.6,272.8 L278.4,273.8 L278.1,274.7 L277.7,275.7 L277.2,276.6 L276.7,277.4 L276.1,278.3 L275.5,279.0 L274.8,279.8 L274.0,280.4 L273.2,281.0"/>
<path d="M247.3,276.0 L247.0,275.6 L246.8,275.3 L246.6,274.9 L246.3,274.5 L246.1,274.2 L245.9,273.8 L245.7,273.4 L245.5,273.0 L245.4,272.6 L245.2,272.2 L245.1,271.8 L244.9,271.4 L244.8,271.0 L244.7,270.6 L244.7,270.1 L244.7,269.7 L244.7,269.3 L244.7,268.9 L244.8,268.5 L244.9,268.0 L245.1,267.6 L245.3,267.2 L245.4,266.9 L245.4,266.9 L245.9,266.1 L246.5,265.4 L247.1,264.8 L247.8,264.3 L248.5,263.8 L249.3,263.4 L250.1,263.1 L250.9,262.8 L251.7,262.6 L252.6,262.4 L253.5,262.3 L254.3,262.2 L255.2,262.1 L256.1,262.1 L257.0,262.0 L257.9,262.0 L258.7,261.9 L259.6,261.9 L260.5,261.9 L261.3,261.9 L262.2,261.9 L263.0,262.0 L263.9,262.1 L264.7,262.3 L265.6,262.4 L266.4,262.7 L267.3,262.9 L268.1,263.2 L268.9,263.6 L269.7,263.9 L270.4,264.3 L271.2,264.8 L271.9,265.3 L272.6,265.9 L273.2,266.5 L273.7,267.1 L274.2,267.8 L274.7,268.6 L275.1,269.4 L275.4,270.2 L275.7,271.0 L275.8,271.9 L276.0,272.7 L276.0,273.6 L275.9,274.5 L275.7,275.3 L275.4,276.2 L275.1,277.0 L274.7,277.7 L274.3,278.5 L273.8,279.2 L273.2,279.9 L272.6,280.5 L271.9,281.0 L271.2,281.6"/>
<path d="M249.1,277.4 L248.9,277.1 L248.7,276.8 L248.6,276.5 L248.4,276.2 L248.2,275.9 L248.0,275.6 L247.9,275.3 L247.7,274.9 L247.6,274.6 L247.4,274.3 L247.3,273.9 L247.2,273.6 L247.1,273.2 L247.0,272.9 L247.0,272.5 L247.0,272.2 L247.0,271.8 L247.0,271.5 L247.1,271.1 L247.2,270.8 L247.3,270.4 L247.5,270.1 L247.6,269.8 L247.6,269.8 L248.0,269.1 L248.5,268.6 L249.0,268.1 L249.6,267.6 L250.2,267.2 L250.8,266.9 L251.5,266.6 L252.2,266.4 L252.9,266.2 L253.6,266.1 L254.4,266.0 L255.1,265.9 L255.8,265.8 L256.6,265.8 L257.3,265.7 L258.0,265.7 L258.8,265.6 L259.5,265.6 L260.2,265.6 L260.9,265.6 L261.7,265.6 L262.4,265.7 L263.1,265.8 L263.8,265.9 L264.5,266.1 L265.2,266.3 L265.9,266.5 L266.6,266.7 L267.3,267.0 L268.0,267.3 L268.6,267.7 L269.2,268.1 L269.8,268.5 L270.4,268.9 L270.9,269.5 L271.4,270.0 L271.8,270.6 L272.2,271.2 L272.5,271.9 L272.8,272.6 L273.0,273.3 L273.1,274.0 L273.2,274.7 L273.2,275.4 L273.2,276.2 L273.0,276.9 L272.8,277.6 L272.5,278.3 L272.2,278.9 L271.8,279.5 L271.4,280.1 L270.9,280.7 L270.4,281.2 L269.9,281.7 L269.3,282.1"/>
<path d="M251.0,278.9 L250.9,278.6 L250.7,278.4 L250.6,278.1 L250.4,277.9 L250.3,277.6 L250.1,277.4 L250.0,277.1 L249.9,276.9 L249.8,276.6 L249.6,276.3 L249.5,276.0 L249.5,275.8 L249.4,275.5 L249.3,275.2 L249.3,274.9 L249.3,274.6 L249.3,274.3 L249.3,274.1 L249.4,273.8 L249.5,273.5 L249.6,273.2 L249.7,272.9 L249.8,272.7 L249.8,272.7 L250.1,272.2 L250.5,271.7 L250.9,271.3 L251.4,270.9 L251.9,270.6 L252.4,270.3 L252.9,270.1 L253.5,269.9 L254.1,269.8 L254.7,269.7 L255.2,269.6 L255.8,269.5 L256.4,269.5 L257.0,269.4 L257.6,269.4 L258.2,269.4 L258.8,269.3 L259.4,269.3 L260.0,269.3 L260.6,269.3 L261.2,269.4 L261.7,269.4 L262.3,269.5 L262.9,269.6 L263.5,269.7 L264.0,269.8 L264.6,270.0 L265.2,270.2 L265.7,270.4 L266.2,270.7 L266.8,271.0 L267.3,271.3 L267.8,271.6 L268.2,272.0 L268.6,272.4 L269.0,272.9 L269.3,273.4 L269.6,273.9 L269.9,274.4 L270.1,275.0 L270.3,275.5 L270.4,276.1 L270.5,276.7 L270.5,277.3 L270.5,277.9 L270.3,278.4 L270.1,279.0 L269.9,279.5 L269.7,280.1 L269.4,280.6 L269.0,281.1 L268.6,281.5 L268.2,281.9 L267.8,282.3 L267.3,282.7"/>
<path d="M252.9,280.3 L252.8,280.1 L252.7,280.0 L252.6,279.8 L252.4,279.6 L252.3,279.4 L252.2,279.2 L252.1,279.0 L252.0,278.8 L251.9,278.6 L251.9,278.4 L251.8,278.2 L251.7,278.0 L251.7,277.7 L251.6,277.5 L251.6,277.3 L251.6,277.1 L251.6,276.9 L251.6,276.7 L251.7,276.4 L251.7,276.2 L251.8,276.0 L251.9,275.8 L252.0,275.6 L252.0,275.6 L252.2,275.2 L252.5,274.9 L252.8,274.5 L253.2,274.3 L253.6,274.0 L254.0,273.8 L254.4,273.6 L254.8,273.5 L255.2,273.4 L255.7,273.3 L256.1,273.3 L256.6,273.2 L257.0,273.2 L257.5,273.1 L258.0,273.1 L258.4,273.1 L258.9,273.0 L259.3,273.0 L259.8,273.0 L260.2,273.0 L260.6,273.1 L261.1,273.1 L261.5,273.2 L262.0,273.2 L262.4,273.3 L262.8,273.4 L263.3,273.6 L263.7,273.7 L264.1,273.9 L264.5,274.1 L264.9,274.3 L265.3,274.5 L265.7,274.8 L266.0,275.1 L266.3,275.4 L266.6,275.7 L266.9,276.1 L267.1,276.5 L267.3,276.9 L267.5,277.3 L267.6,277.8 L267.7,278.2 L267.8,278.7 L267.8,279.1 L267.7,279.5 L267.6,280.0 L267.5,280.4 L267.3,280.8 L267.1,281.2 L266.9,281.6 L266.6,282.0 L266.4,282.3 L266.0,282.7 L265.7,283.0 L265.3,283.2"/>
<path d="M254.8,281.8 L254.7,281.6 L254.6,281.5 L254.6,281.4 L254.5,281.3 L254.4,281.1 L254.3,281.0 L254.3,280.9 L254.2,280.7 L254.1,280.6 L254.1,280.4 L254.0,280.3 L254.0,280.1 L253.9,280.0 L253.9,279.8 L253.9,279.7 L253.9,279.5 L253.9,279.4 L253.9,279.2 L253.9,279.1 L254.0,278.9 L254.0,278.8 L254.1,278.7 L254.2,278.5 L254.2,278.5 L254.3,278.3 L254.5,278.0 L254.7,277.8 L255.0,277.6 L255.3,277.4 L255.5,277.3 L255.8,277.2 L256.1,277.1 L256.4,277.0 L256.7,276.9 L257.0,276.9 L257.3,276.9 L257.7,276.8 L258.0,276.8 L258.3,276.8 L258.6,276.8 L258.9,276.8 L259.2,276.7 L259.5,276.7 L259.8,276.7 L260.1,276.8 L260.4,276.8 L260.7,276.8 L261.1,276.9 L261.4,276.9 L261.7,277.0 L261.9,277.1 L262.2,277.2 L262.5,277.3 L262.8,277.5 L263.1,277.6 L263.4,277.8 L263.6,278.0 L263.8,278.2 L264.1,278.4 L264.3,278.6 L264.4,278.9 L264.6,279.1 L264.7,279.4 L264.9,279.7 L264.9,280.0 L265.0,280.3 L265.1,280.6 L265.1,280.9 L265.0,281.2 L265.0,281.5 L264.9,281.8 L264.7,282.1 L264.6,282.4 L264.5,282.7 L264.3,282.9 L264.1,283.2 L263.9,283.4 L263.6,283.6 L263.4,283.8"/>
</g>

</g>
<!-- crab -->
<g stroke-linecap="round" stroke-linejoin="round" fill="none">
<g stroke="#66733f" stroke-width="2.1">
<path d="M212.5,162 L207,158 L201.8,154.6"/>
<path d="M212.3,163.3 L206,161.5 L200.9,160.3 L200.5,163.3"/>
<path d="M215,160.4 L212.4,155 L211.4,150.6 L213.2,149.8"/>
<path d="M219,160.3 L218.4,156.5 L220.8,155.3 L223.6,156.2"/>
<path d="M227.6,163.8 L235.3,163.3 L239.7,162.5 L241.2,159.8"/>
<path d="M228.1,165.6 L236.4,166.6 L243,166 L245.2,162.6"/>
<path d="M228.3,167.2 L238.6,168.6 L243,168.2"/>
<path d="M227.6,173 L230.9,175.5 L232,179.2 L230.3,184.1 L229.8,185.4"/>
<path d="M225.6,173.8 L224.3,178.1 L220.4,180.8 L216.6,182.5"/>
<path d="M212.4,165 L207.4,166 L205.6,170.5 L206.2,176.5"/>
</g>
<path d="M229.2,168.9 L249.2,180.8" stroke="#55612f" stroke-width="1.3"/>
<g stroke="#9a6a3a" stroke-width="1.9">
<path d="M204.5,156.4 L201.8,154.6"/>
<path d="M203,160.8 L200.9,160.3 L200.6,163"/>
<path d="M211.6,152.6 L211.4,150.6 L213.2,149.8"/>
<path d="M220.8,155.3 L223.6,156.2"/>
<path d="M240.1,161.9 L241.2,159.8"/>
<path d="M243.4,165.4 L245.2,162.6"/>
<path d="M240.6,168.5 L243,168.2"/>
<path d="M230.7,182.6 L229.8,185.4"/>
<path d="M219,181.6 L216.6,182.5"/>
<path d="M205.9,174 L206.2,176.5"/>
</g>
</g>
<ellipse cx="220.8" cy="167.3" rx="9.6" ry="7.5" transform="rotate(14 220.8 167.3)" fill="url(#crabb)" stroke="#3d4424" stroke-width="0.6"/>
<path d="M216.8,167 q1.6,-2.6 3.4,-0.6 M220.6,165.3 q1.8,-1.2 2.8,1.8" fill="none" stroke="#3b4225" stroke-width="0.6"/>
<!-- snail -->
<g>
<path d="M236.8,194.6 C239.5,195.6 242.2,197.4 244.5,199.2 L246,199.6 L265,200.6 C267.8,201 269.9,201.9 269.8,203.2 C269.6,203.8 268.5,203.9 267,203.9 L244,203.9 C242.2,203.8 241,203.2 241.4,202 C240.2,199.6 238.4,197.3 236.6,195.4 Z" fill="#111"/>
<path d="M245.6,201 C245.6,195.5 247.3,190.2 251.2,187.7 C255.5,185.6 263.5,185.4 269.2,186.8 C271.8,188.4 271.6,192.8 270,196.2 C268.7,199 266.6,200.7 263.5,201.4 L247,201.6 Z" fill="url(#snailg)"/>
<path d="M261.8,186 C263.5,190 265,195.5 265.2,201 M266.4,186.4 C268,189.5 268.8,193.5 268.9,197.5" stroke="#35230f" stroke-width="0.55" fill="none"/>
</g>

</svg>
</body></html>
